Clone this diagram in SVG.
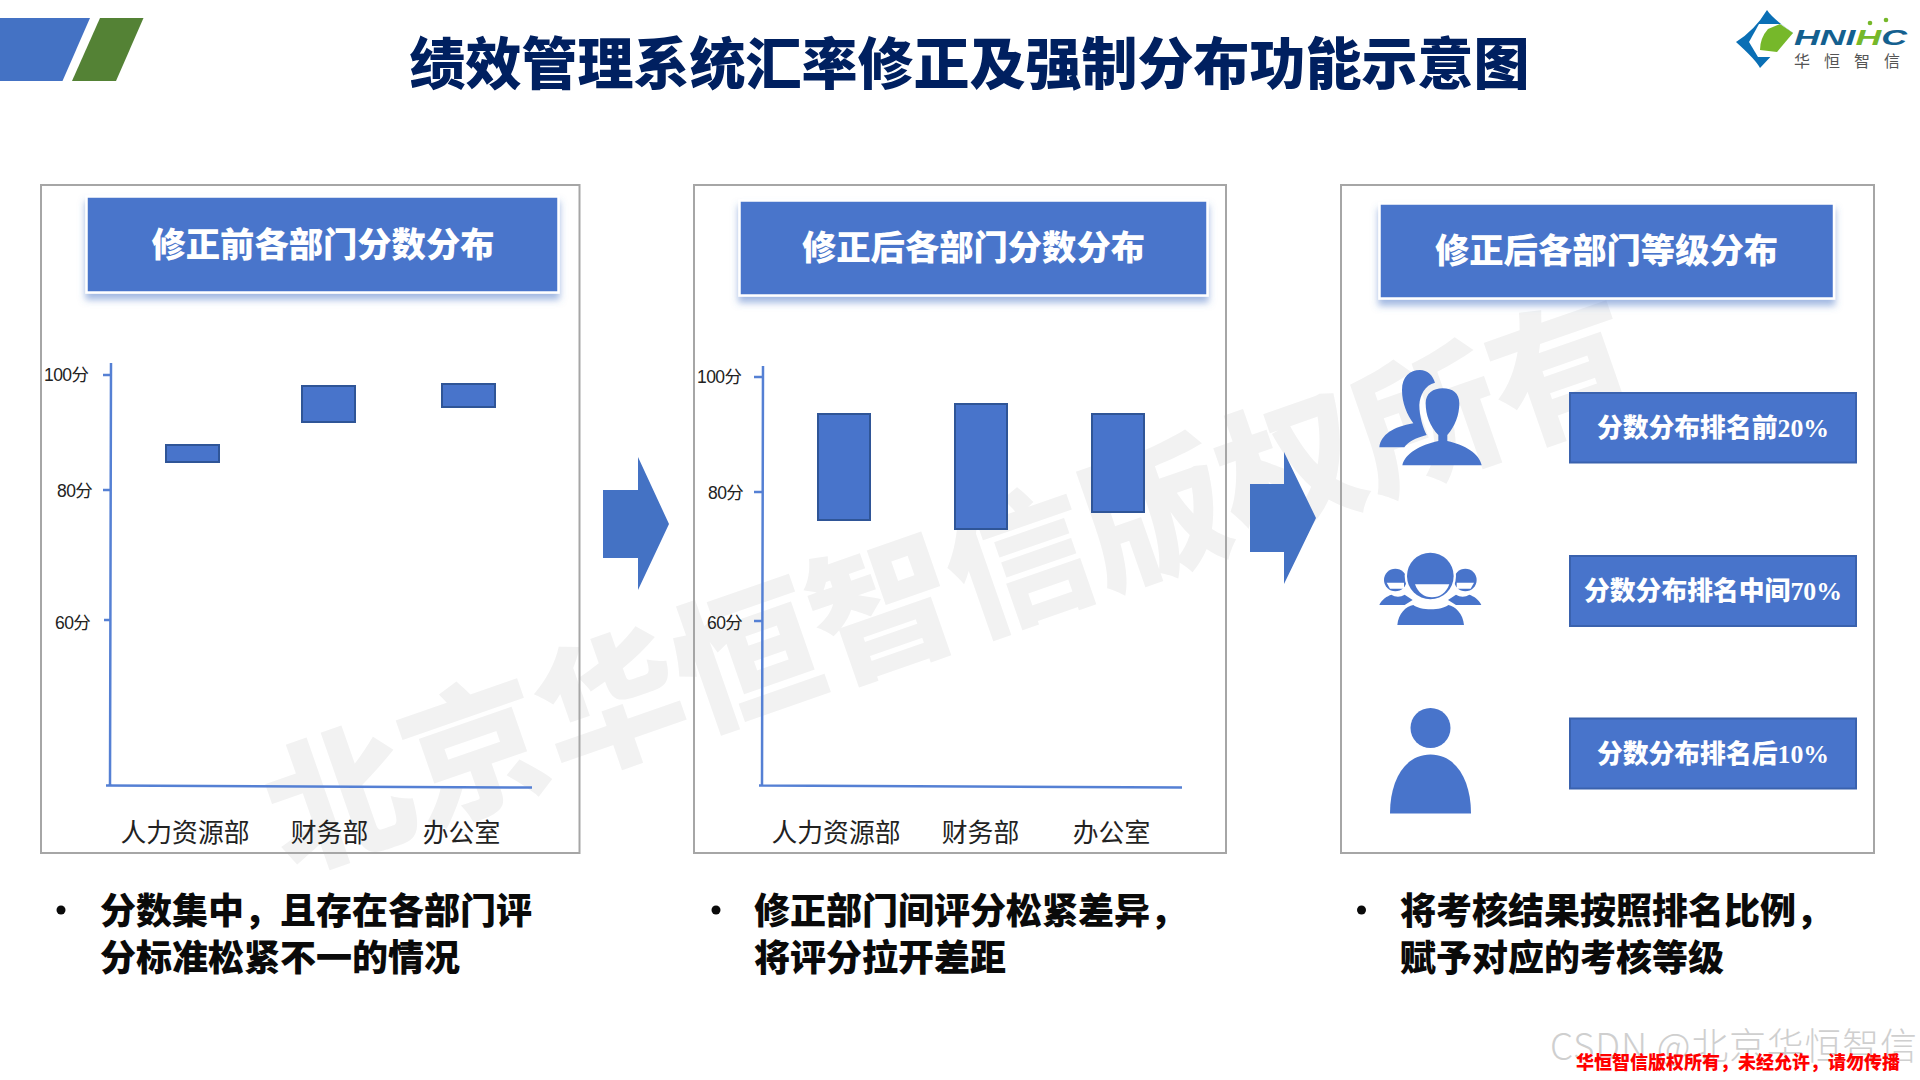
<svg xmlns="http://www.w3.org/2000/svg" width="1920" height="1080" viewBox="0 0 1920 1080">
<style>
text{font-family:"Noto Sans CJK SC","Microsoft YaHei",sans-serif}
.panel{fill:none;stroke:#a6a6a6;stroke-width:2}
.hdr{fill:#4874cb;stroke:#fff;stroke-width:2.5;filter:url(#sh)}
.hdrt{fill:#fff;font-size:34.3px;font-weight:900;text-anchor:middle}
.bar{fill:#4874cb;stroke:#2f5597;stroke-width:2}
.axis{stroke:#5580d4;stroke-width:2.5;fill:none}
.tick{font-family:"Liberation Sans","Noto Sans CJK SC",sans-serif;font-size:17.5px;fill:#222;letter-spacing:-.6px}
.cat{font-size:25.8px;fill:#222;text-anchor:middle}
.bul{font-size:36px;font-weight:900;fill:#0a0a0a}
.box{fill:#4874cb;stroke:#3a62ae;stroke-width:2}
.boxt{fill:#fff;font-family:"Liberation Serif","Noto Sans CJK SC",serif;font-size:25.8px;font-weight:700;text-anchor:middle}
.boxt tspan{font-family:"Noto Sans CJK SC",sans-serif;font-weight:900}
.ico{fill:#4874cb}
</style>
<defs>
<filter id="sh" x="-5%" y="-10%" width="110%" height="130%">
<feDropShadow dx="0" dy="6" stdDeviation="3.5" flood-color="#4472c4" flood-opacity=".5"/>
</filter>
</defs>
<rect width="1920" height="1080" fill="#fff"/>
<text transform="translate(288 872) rotate(-19.200)" font-weight="900" fill="#f2f2f2" style="font-size:144px">北京华恒智信版权所有</text>

<g id="deco">
<polygon points="0,18 90,18 62.5,81 0,81" fill="#4472c4"/>
<polygon points="100,18 143.5,18 116,81 72,81" fill="#548235"/>
</g>
<text id="title" x="969.500" y="84" text-anchor="middle" fill="#002060" font-weight="900" style="font-size:56px">绩效管理系统汇率修正及强制分布功能示意图</text>

<g id="logo">
<path d="M1767 10 Q1772 18 1793 33 L1760 68 Q1756 60 1736 42 Q1755 30 1767 10Z" fill="#0a6fb5"/>
<path d="M1781 24 L1759 24 L1749 42 L1758 57 L1777 57 L1793 33Z" fill="#fff"/>
<path d="M1768 29 L1780 24 L1793 33 L1777 52 L1760 50 Q1760 38 1768 29Z" fill="#76b82a"/>
<text x="1794" y="44.500" font-weight="700" font-style="italic" textLength="113" lengthAdjust="spacingAndGlyphs" style="font-family:'Liberation Sans',sans-serif;font-size:22px"><tspan fill="#14608f">HNI</tspan><tspan fill="#76b82a">H</tspan><tspan fill="#14608f">C</tspan></text>
<circle cx="1870" cy="23" r="2.300" fill="#76b82a"/><circle cx="1886" cy="20" r="2.300" fill="#76b82a"/>
<text x="1794" y="67" fill="#555" font-weight="400" style="font-size:16px;letter-spacing:14px">华恒智信</text>
</g>

<g id="panel1">
<rect class="panel" x="41" y="185" width="538.500" height="668"/>
<rect class="hdr" x="86.500" y="196.500" width="472" height="96"/>
<text class="hdrt" x="323" y="257">修正前各部门分数分布</text>
<path class="axis" d="M111 363 L110 785 M103 375 H111 M103 490 H111 M104 620 H110 M106 785.500 L532 787.500"/>
<text class="tick" x="44" y="381">100分</text><text class="tick" x="57" y="497">80分</text><text class="tick" x="55" y="629">60分</text>
<rect class="bar" x="166" y="445" width="53" height="17"/>
<rect class="bar" x="302" y="386" width="53" height="36"/>
<rect class="bar" x="442" y="384" width="53" height="23"/>
<text class="cat" x="185" y="842">人力资源部</text><text class="cat" x="329.500" y="842">财务部</text><text class="cat" x="461.500" y="842">办公室</text>
<text class="bul" x="100" y="924">分数集中，且存在各部门评</text>
<text class="bul" x="100" y="971">分标准松紧不一的情况</text>
<circle cx="61" cy="910" r="4.500" fill="#0a0a0a"/>
</g>

<g id="panel2">
<rect class="panel" x="694" y="185" width="532" height="668"/>
<rect class="hdr" x="739.500" y="200.500" width="468" height="95"/>
<text class="hdrt" x="973.500" y="260">修正后各部门分数分布</text>
<path class="axis" d="M763 366 L762 785 M754 377 H763 M754 492 H763 M754 621 H762 M759 785.500 L1182 787.500"/>
<text class="tick" x="697" y="383">100分</text><text class="tick" x="708" y="499">80分</text><text class="tick" x="707" y="629">60分</text>
<rect class="bar" x="818" y="414" width="52" height="106"/>
<rect class="bar" x="955" y="404" width="52" height="125"/>
<rect class="bar" x="1092" y="414" width="52" height="98"/>
<text class="cat" x="836" y="842">人力资源部</text><text class="cat" x="980.500" y="842">财务部</text><text class="cat" x="1111.500" y="842">办公室</text>
<text class="bul" x="754" y="924">修正部门间评分松紧差异，</text>
<text class="bul" x="754" y="971">将评分拉开差距</text>
<circle cx="716" cy="910" r="4.500" fill="#0a0a0a"/>
</g>

<g id="panel3">
<rect class="panel" x="1341" y="185" width="533" height="668"/>
<rect class="hdr" x="1379.500" y="203.500" width="454.500" height="95"/>
<text class="hdrt" x="1606.500" y="263">修正后各部门等级分布</text>
<text class="bul" x="1400" y="924">将考核结果按照排名比例，</text>
<text class="bul" x="1400" y="971">赋予对应的考核等级</text>
<circle cx="1361.500" cy="910" r="4.500" fill="#0a0a0a"/>
</g>

<g id="rank1">
<g transform="translate(1370 360) scale(.3333)" class="ico">
<path d="M28 262C32 225 70 200 130 190C112 165 96 130 96 90C96 50 120 30 150 30C172 30 188 45 195 68C165 75 150 105 148 135C148 170 160 205 170 225C135 235 115 245 103 262Z"/>
<path d="M97 316C105 280 150 255 205 243L205 225C180 200 167 165 167 130C167 100 190 85 218 85C248 85 268 100 268 130C268 165 255 200 232 225L232 243C285 255 328 280 335 316Z"/>
</g>
<rect class="box" x="1570" y="393" width="286" height="69.500"/>
<text class="boxt" x="1713" y="437"><tspan>分数分布排名前</tspan>20%</text>
</g>
<g id="rank2">
<g transform="translate(1370 540) scale(.3333)" class="ico">
<circle cx="76" cy="120" r="34"/><circle cx="286" cy="120" r="34"/>
<path d="M50 128H102V146H60Z" fill="#fff"/><path d="M312 128H260V146H302Z" fill="#fff"/>
<path d="M28 195C35 178 52 168 64 164C76 172 92 172 104 164L128 180L104 195Z"/>
<path d="M334 195C327 178 310 168 298 164C286 172 270 172 258 164L234 180L258 195Z"/>
<circle cx="181" cy="108" r="77" fill="#fff"/>
<circle cx="181" cy="108" r="70"/>
<path d="M135 133H238C228 160 210 172 186 172C162 172 145 160 135 133Z" fill="#fff"/>
<path d="M82 255C85 222 108 198 130 195C150 212 215 212 235 195C255 198 280 222 282 255Z"/>
</g>
<rect class="box" x="1570" y="556" width="286" height="70"/>
<text class="boxt" x="1713" y="600"><tspan>分数分布排名中间</tspan>70%</text>
</g>
<g id="rank3">
<g class="ico"><circle cx="1430.500" cy="728" r="20"/>
<path d="M1390 813.500C1390 780 1405 754.500 1430.500 754.500C1456 754.500 1471 780 1471 813.500Z"/></g>
<rect class="box" x="1570" y="718.500" width="286" height="70"/>
<text class="boxt" x="1713" y="763"><tspan>分数分布排名后</tspan>10%</text>
</g>

<g id="connectors">
<polygon points="603,490 638,490 638,457 669,524 638,590 638,558 603,558" fill="#4472c4"/>
<polygon points="1250,484 1284,484 1284,452 1316,518 1284,584 1284,552 1250,552" fill="#4472c4"/>
</g>

<text id="csdn" x="1550" y="1060" fill="#cfcfcf" font-weight="300" textLength="367" lengthAdjust="spacing" style="font-size:37px">CSDN @北京华恒智信</text>
<text id="copyright" x="1576" y="1069" fill="#ff0000" font-weight="900" style="font-size:18px">华恒智信版权所有，未经允许，请勿传播</text>
</svg>
